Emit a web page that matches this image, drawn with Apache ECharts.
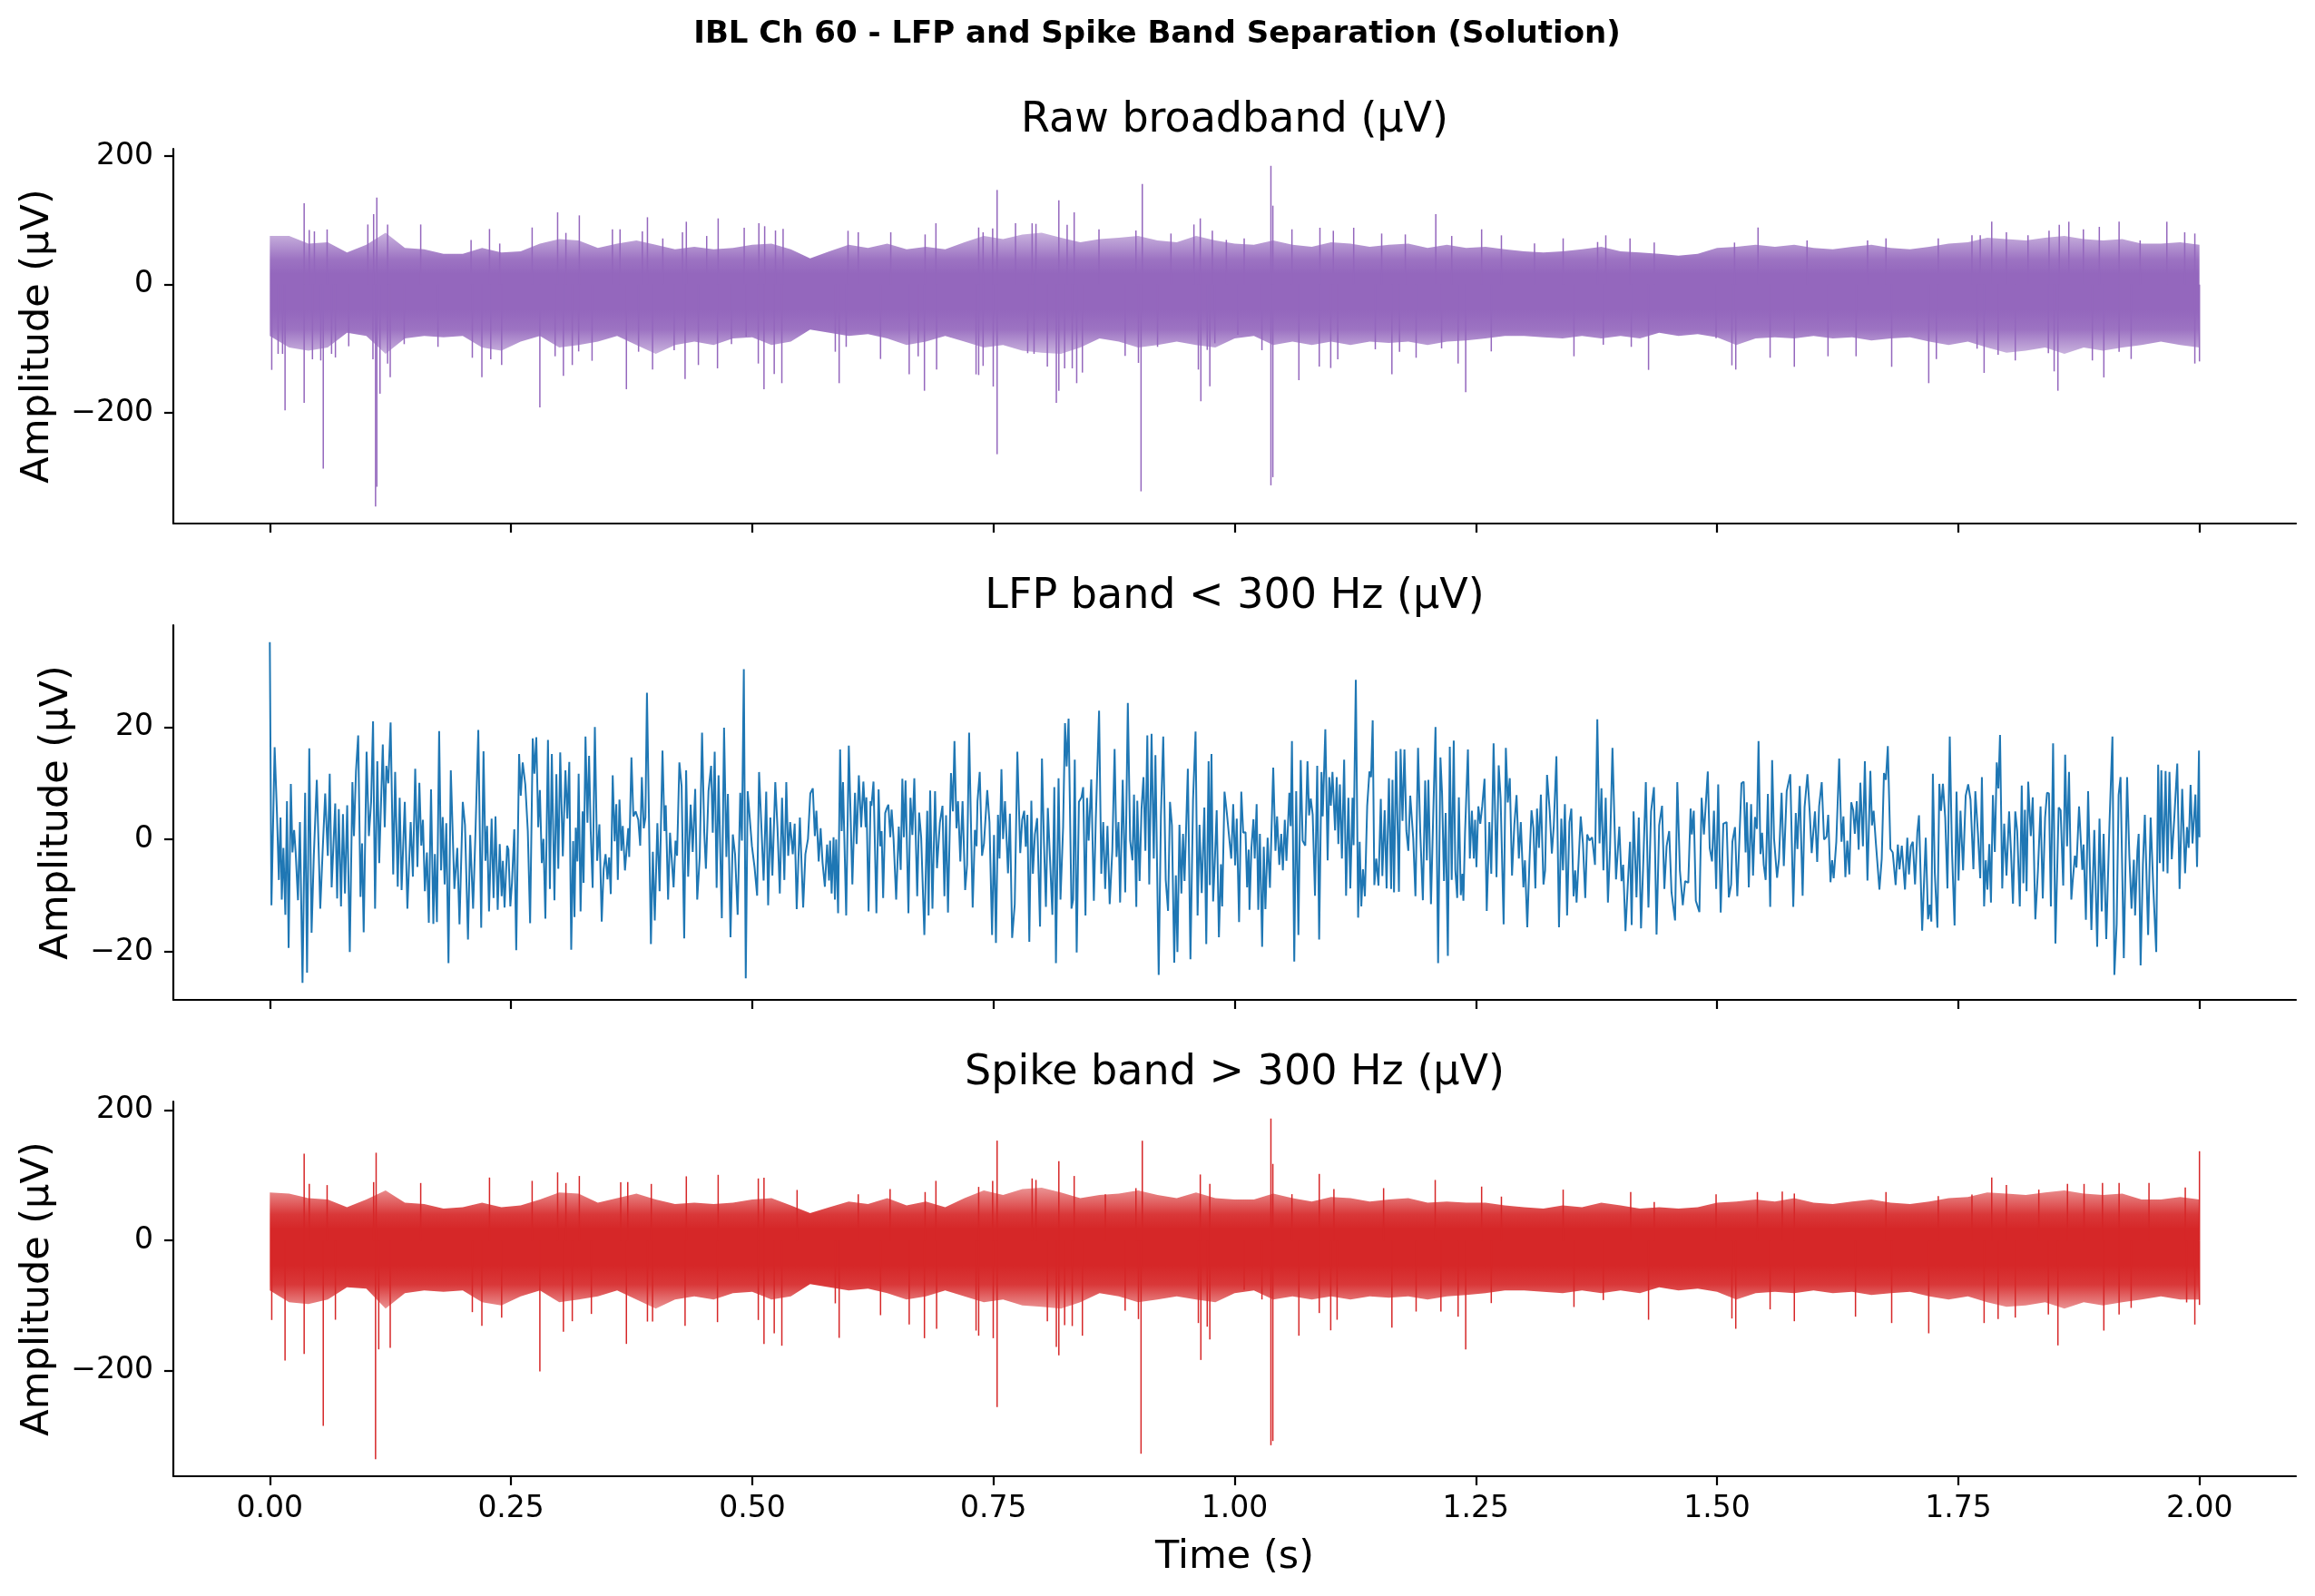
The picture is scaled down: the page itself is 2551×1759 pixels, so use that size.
<!DOCTYPE html>
<html>
<head>
<meta charset="utf-8">
<title>IBL Ch 60 - LFP and Spike Band Separation (Solution)</title>
<script src="https://cdn.jsdelivr.net/npm/echarts@6/dist/echarts.min.js"></script>
<style>
  html, body { margin: 0; padding: 0; background: #fff; }
  #chart { width: 2551px; height: 1759px; }
</style>
</head>
<body>
<div id="chart"></div>
<script>
// ---- data (time in ms, amplitude in µV) ----
var suptitle = 'IBL Ch 60 - LFP and Spike Band Separation (Solution)';
var panelTitles = ['Raw broadband (µV)', 'LFP band < 300 Hz (µV)', 'Spike band > 300 Hz (µV)'];
var timeTicks = [0, 0.25, 0.5, 0.75, 1.0, 1.25, 1.5, 1.75, 2.0];
var wideTicks = [-200, 0, 200];
var lfpTicks = [-20, 0, 20];
var binMs = 20; // envelope bins

// raw broadband: outer envelope of the dense trace, one value per 20 ms bin
var rawHi = [76,76,64,66,50,62,81,57,55,48,48,57,50,52,64,71,69,57,64,69,62,55,59,55,57,62,64,55,41,52,62,57,64,55,59,55,66,76,71,78,81,73,66,71,73,76,69,66,76,69,64,
  62,69,62,59,66,64,59,62,64,57,62,57,59,55,52,50,52,55,59,52,50,48,45,48,57,59,62,59,62,57,55,59,62,57,55,59,64,66,73,71,69,73,76,71,69,71,64,64,66,62];
var rawLo = [-80,-98,-103,-98,-75,-80,-108,-84,-80,-82,-80,-98,-103,-89,-80,-98,-94,-89,-80,-94,-108,-94,-89,-94,-84,-82,-94,-89,-70,-75,-80,-77,-84,-94,-89,-80,-89,-98,-94,-103,-106,-108,-98,-84,-89,-98,-94,-89,-94,-98,-84,
  -80,-94,-89,-94,-89,-94,-89,-91,-89,-94,-89,-87,-84,-80,-80,-82,-84,-80,-84,-80,-84,-75,-80,-77,-82,-94,-84,-82,-84,-80,-84,-82,-87,-84,-82,-89,-94,-89,-98,-106,-103,-98,-108,-98,-103,-98,-94,-89,-94,-98];
// raw broadband: single spikes sticking out of the band [ms, µV]
var rawUp = [[35.6,126.7],[40.9,85],[46.2,83],[59.4,86],[101.6,93.7],[107.6,109.8],[110.9,135.7],[122.1,93.7],[156.4,93.7],[208.6,69.7],[227.7,86.7],[238.3,64],[271.9,89],[298.3,112.6],[306.9,80.6],[320.8,107.9],[355.1,86.2],[363,86.2],[386.1,82.9],[391.4,105],[407.3,72],[427.7,81.5],[431.7,98],[452.8,75.8],[464.7,103.2],[491.7,88.6],[506.9,95.6],[512.9,91],[524.1,84.3],[532,86.7],[599.3,83.9],[609.9,81.5],[643.6,81.5],[679.2,78.2],[690.4,95.6],[734.7,89],[739.3,81.5],[749.2,87.6],[753.8,147.5],[772.9,95.6],[790.1,95.6],[794.1,94.7],[817.8,131.4],[826.4,93.3],[833.7,112.6],[859.4,86.2],[897.7,84.3],[904.3,156.9],[934,79.6],[957.8,93.7],[964.4,103.2],[976.9,83.9],[991.4,69.7],[1009.9,72],
  [1037.6,185.1],[1039.6,123],[1059.4,86.2],[1088.4,88.6],[1102.3,83.9],[1123.4,88.6],[1152.4,79.6],[1176.9,78.2],[1208.5,109.8],[1225,75.8],[1256,86.2],[1276.5,76.8],[1310.8,64.1],[1340.5,72.1],[1376.2,66.4],[1384.7,76.8],[1409.8,72.1],[1434.9,65.5],[1518.1,65.5],[1542.5,89],[1593.3,68.8],[1656,68.8],[1675.1,72.1],[1729.3,72.1],[1764.2,76.8],[1772.8,76.8],[1784.7,98],[1799.9,81.5],[1822.3,76.8],[1844.1,83.9],[1854.7,93.3],[1864.6,98],[1879.7,86.2],[1896.2,90],[1916.7,98],[1938.5,68.8],[1966.2,98],[1984.7,81.5],[1995.2,79.6]];
var rawDown = [[2,-132.9],[8.6,-107.9],[13.2,-107.9],[15.8,-196],[35.6,-184.2],[44.2,-116.4],[52.8,-118.2],[55.4,-286.9],[64,-107.9],[68,-113.5],[81.8,-96.1],[106.9,-116.4],[109.6,-345.8],[110.9,-315.2],[114.2,-170],[122.1,-123],[124.8,-144.2],[139.3,-92.8],[174.3,-97],[209.9,-114],[219.8,-144.2],[229,-116.4],[240.3,-125.3],[279.9,-191.3],[295.7,-111.7],[304.3,-142.3],[313.5,-125.3],[320.1,-104.1],[334,-118.7],[369.6,-163],[382.2,-104.6],[396.7,-132.4],[419.1,-102.2],[430.4,-147],[444.2,-125.3],[464,-130.5],[478.5,-92.8],[493.7,-81],[506.3,-123],[512.2,-163],[522.8,-139.4],[530.7,-153.6],[586.1,-104.6],[590.1,-153.6],[597.4,-97],[633,-115.9],[662.7,-139.9],[672,-111.7],[678.5,-165.4],[691.1,-132.4],[732,-139.9],[734.7,-140.9],[739.3,-126.7],[749.8,-158.8],[753.8,-264.3],[785.5,-106.9],[792.1,-107.9],[805.9,-127.7],[815.2,-184.2],[817.8,-165.4],[823.8,-130.5],[831.7,-130.5],[836.3,-153.6],[842.2,-137.1],[886.5,-111.2],[900.3,-122],[903,-322.2],[920.1,-97],[962.4,-132.4],[965,-181.8],[971.6,-101.8],[974.3,-158.3],[979.5,-91.4],[1003.3,-78.2],
  [1028.3,-102.2],[1037.6,-312.8],[1039.6,-300.1],[1066.6,-148.9],[1087.7,-127.7],[1099.6,-130],[1106.9,-116.4],[1145.8,-100.8],[1163,-139.9],[1170.9,-104.6],[1188.1,-114],[1214.5,-99.4],[1231.6,-123],[1239.5,-167.7],[1266,-104.1],[1351.7,-111.7],[1382.1,-93.7],[1411.1,-97],[1429,-132.9],[1499,-83.4],[1515.4,-125.8],[1519.4,-132.4],[1555,-114],[1580.1,-128.1],[1615,-111.7],[1644.1,-111.7],[1681,-128.1],[1719.4,-153.6],[1727.3,-115.9],[1769.5,-99.9],[1776.8,-137.6],[1791.3,-109.3],[1809.1,-118.2],[1843.4,-106.9],[1849.4,-135.2],[1853.3,-165.4],[1889,-118.2],[1900.9,-144.6],[1916.7,-104.6],[1929.2,-115.9],[1995.2,-123],[2000,-119.7]];

// spike band (> 300 Hz): same layout as the raw trace
var spkHi = [74,72,65,63,51,63,77,58,56,49,51,58,51,54,63,74,72,58,65,72,63,56,58,56,58,63,65,54,42,51,60,56,65,54,60,51,65,77,70,79,81,74,65,70,72,77,70,65,74,65,63,
  63,72,65,60,67,65,60,63,65,58,60,58,58,54,51,49,54,51,58,54,49,51,49,51,58,60,63,60,65,58,56,60,63,58,56,60,65,67,74,72,70,74,77,72,70,72,63,63,67,63];
var spkLo = [-77,-95,-98,-91,-72,-74,-105,-81,-77,-79,-77,-95,-100,-86,-77,-95,-91,-86,-77,-91,-105,-91,-86,-91,-81,-79,-91,-86,-67,-72,-77,-74,-81,-91,-86,-77,-86,-95,-91,-100,-102,-105,-95,-81,-86,-95,-91,-86,-91,-95,-81,
  -77,-91,-86,-91,-86,-91,-86,-88,-86,-91,-86,-84,-81,-77,-77,-79,-81,-77,-81,-77,-81,-72,-77,-74,-79,-91,-81,-79,-81,-77,-81,-79,-84,-81,-79,-86,-91,-86,-95,-102,-100,-95,-105,-95,-100,-95,-91,-86,-91,-91];
var spkUp = [[35.6,133.6],[40.9,87],[59.4,85.2],[107.6,89.8],[110.2,135],[156.4,88.4],[227.7,96.8],[271.9,91.7],[298.3,104.7],[306.9,88.4],[320.8,99.2],[363.7,89.4],[371,89.8],[395.4,87],[431.7,98.7],[464.7,101],[506.3,95.4],[512.2,96.4],[546.5,77.7],[609.9,71.2],[642.9,79.1],[679.2,74.5],[690.4,91.7],[734.7,82.4],[749.2,91.7],[753.8,153.6],[790.1,95.4],[794.1,93.1],[817.8,122],[833.7,99.2],[866,71.2],[897.7,80.5],[904.3,153.6],[964.4,101.5],[974.3,87],
  [1037.6,187.6],[1039.6,117.8],[1059.4,71.2],[1087.7,102.4],[1102.9,79.1],[1154.4,80.5],[1207.9,93.1],[1256,82.9],[1276.5,67.5],[1340.5,78.2],[1410.5,74.5],[1434.9,59.1],[1499,71.2],[1541.8,74.5],[1567.6,75.4],[1580.1,72.2],[1675.1,74.5],[1729.3,68.4],[1764.2,70.8],[1784.7,96.8],[1799.9,85.2],[1833.5,78.2],[1863.2,87],[1880.4,87],[1899.5,88.4],[1916.7,88.4],[1947.7,88.4],[1985.3,81.5],[2000,137.3]];
var spkDown = [[2,-122.4],[15.8,-184.8],[35.6,-174.6],[55.4,-285.4],[68,-122],[109.6,-336.6],[112.9,-167.6],[124.8,-165.3],[209.9,-110.3],[219.8,-131.3],[240.3,-118.7],[279.9,-201.6],[304.3,-140.6],[313.5,-124.3],[333.3,-113.1],[369.6,-159.2],[391.4,-124.8],[396.7,-124.8],[430.4,-131.3],[464,-125.7],[506.3,-122.4],[512.2,-159.2],[522.8,-142.9],[530.7,-162],[586.1,-96.8],[590.1,-149.9],[633,-115],[662.7,-129.4],[678.5,-150.4],[691.1,-135.9],[732,-138.7],[734.7,-146.6],[749.8,-150.4],[753.8,-256.4],[805.9,-124.3],[815.2,-163.9],[817.8,-176.9],[823.8,-130.3],[831.7,-131.7],[842.2,-146.6],[886.5,-108],[900.3,-121],[903,-328.2],[962.4,-127.1],[965,-183.9],[971.6,-132.7],[974.3,-152.2],[1009.9,-75.9],
  [1028.3,-90.8],[1037.6,-315.1],[1039.6,-308.6],[1066.6,-146.6],[1087.7,-111.7],[1099.6,-138.3],[1106.2,-122],[1163,-134.1],[1188.1,-109.4],[1213.8,-109.4],[1231.6,-117.3],[1239.5,-167.6],[1266,-96.4],[1351.7,-102.4],[1382.1,-91.7],[1429,-122],[1515.4,-120.1],[1519.4,-135.9],[1555,-106.1],[1580.1,-124.3],[1643.5,-117.3],[1681,-127.1],[1719.4,-142.9],[1776.8,-127.1],[1791.3,-121],[1809.1,-118.7],[1843.4,-114],[1853.3,-161.5],[1900.9,-138.7],[1916.7,-114],[1929.2,-103.8],[1986.7,-95.4],[1995.2,-129.4],[2000,-99.2]];

// LFP band (< 300 Hz): turning points of the trace [ms, µV], one array per half second
var lfpA = [[0,35.1],[1.7,-11.7],[5,16.4],[7.4,4.7],[9.4,-7.2],[11.1,3.9],[12.4,-10.7],[14.1,-1.5],[16.1,-13.4],[17.8,6.8],[19.5,-19.3],[21.8,9.9],[23.5,-2.3],[25.2,1.7],[26.8,-2.3],[29.2,-10.8],[31.2,3.1],[33.9,-25.5],[36.6,8.3],[38.6,-23.7],[40.9,16.2],[43.3,-16.6],[45.6,-2.9],[48.7,10.6],[52.3,-12.3],[54.7,-2.3],[57.4,8.2],[60.1,-2.9],[62.1,11.7],[64.1,-8.5],[67.8,6.4],[69.8,-10.5],[71.5,5.4],[73.8,-11.9],[75.8,4.5],[77.9,-9.6],[80.2,6.1],[82.9,-20],[85.6,10.2],[87.2,0.6],[89.3,12.1],[91.6,18.5],[94,-10.2],[95.6,-0.7],[97.3,-16.5],[100.3,15.6],[102.7,0.6],[105,6.7],[107,21],[109.1,-12.3],[111.4,13.9],[113.4,-4.2],[117.1,16.9],[119.1,2.2],[120.8,13.1],[122.8,10],[125.2,20.8],[127.9,-6.2],[129.9,12],[132.6,-8.4],[134.6,7.4],[136.6,-9],[139.9,6.7],[142.6,-12.3],[146,3.1],[148.3,-6.6],[150.7,12.6],[153,-4.9],[155,10.1],[157,-1.1],[158.7,3.5],[160.7,-9.2],[162.8,-2.3],[164.8,-14.8],[167.1,8.9],[169.5,-15],[171.1,-2.6],[173.2,-14.7],[175.5,19.3],[177.5,-5.5],[179.2,4],[181.2,-8],[182.9,2.9],[185.2,-22],[187.6,12.3],[191.3,-8.8],[194.3,-1.5],[196.6,-15.1],[200,6.7],[202.3,2.6],[205.4,-17.8],[207.7,0.8],[210.7,-12.3],[213.1,0.9],[216.1,19.5],[219.1,-15.7],[221.5,15.7],[223.5,-3.8],[225.2,2.4],[227.2,-12.8],[229.9,3.7],[231.9,-10.4],[233.9,4.1],[236.2,-12.5],[238.3,-0.8],[240.3,-10.1],[241.6,-3.8],[243.3,-12.1],[246,-1.1],[247.3,-1.8],[249.3,-11.9],[251,-7.7],[253.4,1.8],[255.4,-19.7],[258.4,15.2],[260.1,7.8],[262.1,13.7],[264.8,9.8],[267.4,1.5],[269.8,-14.9],[272.5,18],[274.2,11.7],[276.2,18.2],[278.2,2.2],[279.9,8.8],[281.9,-4.2],[283.6,0.1],[285.6,-14.1],[288.3,17.7],[290.3,-8.8],[292.3,15.2],[295,-10.8],[297,11.6],[299,-5.2],[301,15.5],[303.7,-3],[306.4,12.3],[308.4,3.7],[310.4,13.8],[312.4,-19.6],[314.4,-0.3],[315.8,-13.8],[317.1,2.1],[318.8,-3.9],[320.1,11.7],[322.1,-12.8],[324.2,5],[325.2,-7.7],[327.2,18.3],[329.2,3],[330.9,14.9],[332.6,1.5],[334.6,-8.6],[336.9,20],[339.3,-3.8],[341.6,2.7],[344,-14.6],[346,-5.3],[348,-2.6],[350,-7.1],[351.7,-3.2],[353.4,-9.7],[355.4,11.4],[357.4,-0.3],[359.1,6.3],[360.7,-7.2],[362.4,7.1],[364.4,-2],[365.8,2.4],[368.1,-5.5],[371.5,2],[372.5,-3.1],[374.8,14.6],[376.8,4.1],[379.2,5],[381.9,3.5],[383.9,-1.1],[385.6,11.1],[387.6,2],[389.3,3.9],[390.9,26.1],[393,3.6],[395,-18.6],[397,-2.2],[399,-14.4],[401.7,2.9],[404,-9.2],[407,15.8],[409.1,1.5],[410.4,6.1],[412.8,-10.7],[414.8,1.2],[418.5,-8.5],[420.5,-0.2],[422.1,-2.9],[424.5,13.7],[426.8,9.5],[429.5,-17.6],[431.5,12.3],[433.6,-6.6],[436.2,6.2],[438.3,-2.2],[440.9,9],[443,-10.7],[445.6,-3.1],[448,19],[450.3,1.2],[452,-5.2],[454.7,8.6],[457.4,13.1],[459.1,1.2],[461.1,15.6],[463.1,-8.6],[465.1,11.4],[468.5,-14],[470.8,19.9],[473.2,-3.1],[474.8,8.1],[477.5,-17.4],[479.9,0.9],[482.2,-2.6],[484.9,-13.4],[487.6,8.3],[489.3,-0.2],[491.3,30.3],[493.3,-24.7],[495.3,8.6]];
var lfpB = [[499.7,-1.2],[502.4,-4.9],[505.1,-10],[507.1,12],[509.1,4],[511.8,-7.3],[514.5,8.5],[516.5,-11.7],[518.8,3.9],[520.9,-6.4],[523.9,10.2],[526.2,2],[528.6,-9.6],[530.9,7.4],[533.3,-7.2],[535.3,10.2],[537.3,-2.9],[539.3,3.1],[542,-2.6],[544,2.8],[546.1,-12.4],[549.4,3.9],[552.8,-12.1],[555.1,-2.6],[557.8,0.1],[560.2,8.2],[562.8,9.1],[564.9,0.6],[566.5,5.1],[568.9,-3.9],[570.9,2],[572.9,-4.1],[575.3,-8.4],[577.6,-0.9],[579.6,-7.3],[580.7,-0.2],[582.3,-9.6],[584.3,0.4],[585.7,-10.7],[587,0],[589,-13.1],[591.1,16],[592.7,1.5],[594.1,10.2],[597.4,-13.5],[600.1,16.7],[603.8,-8],[606.5,8.3],[608.2,-0.8],[610.5,11.4],[612.9,2.2],[615.2,10.3],[617.6,2.2],[618.3,7.5],[620.6,-12.8],[622.6,6.8],[623.6,6],[625.7,10.3],[628.7,-13.1],[631,8.9],[632.7,-1.2],[634.1,1.5],[635.7,-10.4],[637.8,4.7],[639.4,5.5],[641.1,6.2],[643.1,0.4],[644.5,5.3],[646.5,0.1],[649.2,-10.7],[651.9,2.3],[653.9,-5.4],[655.6,10.8],[657.2,0.4],[658.9,10.5],[661.9,-13.1],[664,7.4],[666,0.8],[668,10.9],[671,-10.1],[673,4.8],[675.1,0.4],[678.4,-17],[681.4,5.1],[682.8,-13.5],[684.4,8.7],[686.8,-12.3],[689.5,8.6],[691.5,-5.1],[694.5,3],[697.2,6],[699.2,-10.1],[700.9,4.3],[702.9,-13],[706,11.8],[708,5],[709.6,17.5],[711.7,2],[713.3,6.8],[715.7,-3.9],[718,6.8],[720.7,-9],[722.7,-4.5],[724.8,19],[728.5,-12.1],[730.8,1.7],[732.5,-1.2],[733.5,6.8],[735.8,12],[738.2,-2.9],[740.2,-0.7],[743.6,8.8],[745.9,3.1],[748.6,-17],[750.6,0.8],[752.6,-18.4],[754.7,4.4],[756.3,-3.4],[758.3,12.5],[760,0.1],[762,6.8],[765.1,-6],[767.1,4.6],[769.4,-17.5],[772.1,-11.5],[774.8,15.6],[777.8,-2.4],[779.8,3.5],[781.9,5.1],[783.5,-1.3],[785.2,4.4],[787.2,-18.2],[789.3,6.9],[790.9,-6.1],[793,0.9],[795.3,3.8],[798.3,-15.5],[800.3,14.4],[802.4,-0.7],[804.4,-12],[806.4,5.6],[808.7,-3.7],[811.1,-13.4],[813.1,9.3],[814.8,-22],[817.5,10.9],[819.5,-10.7],[822.2,2.1],[824.2,20.7],[825.9,13],[827.9,21.5],[830.9,-12.3],[832.6,-10.7],[834.3,14.2],[836.3,-20.1],[838.6,6.7],[841.3,7.5],[843,9.3],[845.4,-13.5],[847,7.4],[848.7,-0.2],[851.4,10.7],[854.1,-10.9],[856.1,3.6],[859.5,22.9],[861.8,-6.1],[863.8,3.1],[865.8,-8.8],[868.2,2.4],[870.5,-11.5],[873.2,-2],[875.6,16.1],[877.6,-3.1],[879.6,3.1],[881.3,-11.2],[884,10.6],[886.6,-9.4],[889.3,24.3],[891.7,-0.2],[894.1,-3.7],[895.7,8],[898.1,-12],[899.1,6.9],[901.5,-7.4],[903.5,5.5],[905.5,11.1],[907.5,-2],[909.5,18.5],[911.5,-8],[913.9,18.8],[916.2,-3.4],[917.9,15],[921.3,-24.1],[923.6,4.1],[926,18.3],[928.6,-7.2],[931,-12.7],[933,6.7],[935,2.5],[937.4,-21.9],[939.1,-6.4],[940.7,-20],[942.8,2.6],[944.8,-9.6],[946.5,1],[948.1,-7.4],[951.5,12.6],[954.2,-21.3],[956.9,7.1],[959.5,19.2],[961.6,-13.5],[963.6,2.6],[965.9,-9.5],[968.6,5.7],[970.6,-18.6],[973,13.9],[974.3,-8.1],[976,15.2],[977.7,-11],[979.4,-4.1],[981.4,5.2],[983.7,-17.4],[985.8,-4.4],[987.1,-11.9],[989.5,8.5],[992.1,4.4],[994.2,0.6],[996.5,-3.4],[998.5,6.3],[1000.5,-4.6],[1002.2,3.7],[1004.6,-14.7],[1006.9,8.5],[1008.9,1.2],[1011.3,1.3],[1012.9,-8.5],[1014.6,-1.8]];
var lfpC = [[1015.4,-12.5],[1017.4,-1.5],[1019.5,3.6],[1020.8,-3.4],[1022.8,6.3],[1024.5,-12.5],[1026.2,1],[1028.5,-19.1],[1030.2,-1.3],[1031.9,-12.4],[1034.2,0.3],[1036.6,-8.6],[1040,12.8],[1042.3,-2],[1044,4.1],[1046.3,-4.5],[1048.3,1],[1050,-5.5],[1052,3.5],[1053.7,-3.8],[1056.7,8.3],[1058.1,2.4],[1059.4,17.5],[1061.8,-21.7],[1063.8,8.6],[1066.1,-17],[1068.5,14.1],[1070.5,-0.2],[1073.2,-1.1],[1075.5,13.9],[1077.2,4.3],[1078.9,7.3],[1080.9,4.4],[1083.3,-10],[1085.6,13.1],[1087.6,-17.8],[1090,12],[1091.3,4.1],[1094,19.6],[1096.4,-3.7],[1098.1,11.1],[1099.7,6],[1101.4,12],[1104.1,1.6],[1105.8,11.1],[1107.5,-0.8],[1109.1,9.8],[1111.2,-3.4],[1113.5,14.2],[1115.5,-10],[1117.9,7.4],[1119.9,-8.7],[1122.2,7.4],[1123.3,-1],[1125.6,28.4],[1128,-13.9],[1129.6,-0.4],[1131.3,-11.9],[1133,-5.3],[1135,-10.1],[1137.4,6],[1139.7,12.1],[1141.4,11.1],[1143.1,21.2],[1144.8,-8.1],[1146.8,-3.4],[1149.1,-8.2],[1151.5,7.2],[1153.1,-6.5],[1155.5,5.2],[1157.5,-8.7],[1159.9,10.9],[1162.2,-8.8],[1163.6,10.6],[1165.2,-9.4],[1167.3,15.7],[1170.3,-9.3],[1172,16.1],[1174,3.3],[1176,16],[1178,1.5],[1180,-2],[1182,7.8],[1185.1,0.2],[1187.4,-10.1],[1190.1,16.3],[1192.4,1.2],[1195.1,-10.8],[1197.5,10.5],[1199.2,-3.7],[1200.8,10.6],[1203.5,-11.5],[1205.5,2.1],[1208.2,20],[1210.9,-22],[1213.3,14.6],[1215,8.2],[1217,-7.4],[1218.7,4.7],[1221,-20.7],[1223,16.5],[1225,-7.2],[1227.1,17.6],[1228.7,-5.3],[1230.7,-10.4],[1232.4,7.5],[1234.4,-9.9],[1236.1,-6.1],[1237.1,-10.9],[1238.8,1.2],[1241.8,16],[1243.8,-3.4],[1245.9,5.1],[1247.9,-3.4],[1249.2,3.5],[1250.6,-4.9],[1252.6,5.9],[1254.6,2.8],[1256.6,5.9],[1259,10.8],[1261.3,-12.7],[1264,3.1],[1266,-6.1],[1268.4,17.1],[1271.4,-6.7],[1273.7,13.2],[1275.7,7.2],[1278.8,-15.1],[1281.1,16.3],[1283.1,6.6],[1285.2,10.9],[1287.5,-6.4],[1289.9,2.6],[1292.2,7.9],[1294.6,-3.4],[1296.6,3.1],[1299.3,-8.5],[1300.9,-3.7],[1303.3,-15.6],[1305.6,-3.8],[1307.7,5.2],[1309.7,2],[1311.7,-8.7],[1313.4,5.5],[1315.4,-1.5],[1317.4,8],[1320.1,-8],[1321.8,-5.5],[1323.8,11.5],[1326.5,5.2],[1328.8,-2.5],[1330.8,2.5],[1333.5,14.8],[1336.2,-15.6],[1338.6,3.7],[1340.3,-5.5],[1342.3,6.3],[1344.6,-13.5],[1347,3.1],[1349,5.5],[1351.3,-10.1],[1353,-5.5],[1354.4,-11.2],[1356.4,-4.2],[1358.7,4.1],[1361,-0.7],[1363.4,-10.4],[1365.4,0.9],[1367.8,-0.2],[1370.5,0.4],[1373.5,-4.5],[1375.9,21.4],[1378.2,-0.7],[1380.2,9.1],[1382.2,-5.5],[1384.6,7.4],[1386.9,-11.2],[1389,-2],[1391.6,16.3],[1395.3,-7.1],[1398.7,2.3],[1401,-7.4],[1402.7,-4.5],[1405.1,-16.3],[1407.4,-8.4],[1409.8,-0.4],[1411.5,-15.2],[1413.5,5],[1416.5,-10.3],[1418.9,3.9],[1421.2,-15.8],[1423.6,-3.8],[1426.2,10.2],[1428.9,-12.1],[1431.6,5],[1434.6,9.3],[1437.3,-16.9],[1440,2.5],[1443,6],[1445.4,-8.8],[1447.7,-1.2],[1450.4,1.5],[1452.8,-9.4],[1456.5,-14.4],[1458.8,10.2],[1461.5,-5.5],[1464.5,-11.7],[1466.9,-7.4],[1470.2,-7.7],[1472.6,5.5],[1473.9,0.9],[1475.9,5.1],[1478,-10.9],[1481.7,-12.9],[1484,7.4],[1486.4,0.9],[1490.4,12.1],[1492.4,-1.5],[1494.8,-3.9],[1496.8,5.1],[1499.1,-8.8],[1501.2,9.8],[1503.8,-13],[1506.5,2.8],[1509.9,3.1],[1512.2,-10.3],[1514.6,-8],[1515.9,-0.4],[1518.6,2.2],[1521,-10.1],[1525.3,10]];
var lfpD = [[1527.6,10.3],[1529.6,-2.3],[1530.9,6.6],[1532.9,-8.5],[1535.3,6.3],[1537.3,-6.4],[1539.3,4],[1541.3,1.9],[1543,17.5],[1545,-2.6],[1546.7,1.2],[1548.4,-4.5],[1550.4,-7.2],[1552.7,8.1],[1555.1,-12],[1557.1,14.1],[1559.1,0.1],[1562.2,-6.8],[1564.2,-3.4],[1566.9,8.3],[1569.2,-4.7],[1572.2,8.6],[1573.6,8.6],[1575.9,11.6],[1579,-12],[1581.6,4.7],[1583.3,-1.7],[1585.7,9.5],[1588.7,-10],[1590.7,5.7],[1593.7,11.6],[1596.1,4.7],[1598.1,-2.4],[1601.5,5],[1603.8,-4],[1605.8,5.9],[1608.5,10.2],[1610.9,0],[1613.5,0.5],[1615.2,4.4],[1617.6,-7.6],[1619.3,-3.7],[1620.9,-6.9],[1623.6,-0.4],[1626.6,14.4],[1629,-0.4],[1631,4.1],[1633,-6.7],[1635,-0.2],[1637.1,-6.2],[1639.1,6.6],[1641.1,5.2],[1642.8,1],[1644.8,6.8],[1646.8,-1.8],[1648.5,10.1],[1651.2,-1.2],[1653.2,13.9],[1655.9,-7.3],[1658.9,12.2],[1660.6,2.5],[1662.3,5.1],[1664.6,-0.6],[1666,-0.8],[1668.3,-8.9],[1670.7,-3.4],[1673,11.8],[1675,10.6],[1677,16.6],[1679.7,-1.7],[1682.1,-2.3],[1685.1,-8.1],[1687.4,-0.9],[1689.1,-5.3],[1691.5,-1.1],[1694.8,-8.9],[1697.2,0.3],[1698.9,-6.2],[1700.9,-1.2],[1702.9,-0.4],[1705.2,-8],[1707.6,1.3],[1709.3,4.3],[1712.6,-16.2],[1716.3,0.3],[1718.7,-14.2],[1720.4,-11.6],[1722.1,-14.6],[1723.7,11.7],[1725.7,-6],[1728.4,-15.7],[1730.4,9.9],[1732.1,5.1],[1734.1,9.9],[1736.5,3.9],[1738.8,-8.7],[1741.2,18.3],[1743.5,-2],[1746.2,-15.3],[1748.2,8.5],[1750.3,-7.3],[1752.3,5.1],[1755,-5.5],[1757.7,7.8],[1760.3,9.8],[1762.7,7.1],[1765.7,-5.3],[1767.7,8.6],[1770.4,1.1],[1772.8,-6.9],[1774.5,11.1],[1776.8,-11.9],[1778.5,-3.7],[1780.2,-8.9],[1782.2,-0.8],[1783.9,-11.2],[1785.9,7.9],[1787.9,-2.2],[1789.9,13.7],[1791.6,9.1],[1793.3,18.6],[1795.6,-8.7],[1797.6,2.8],[1800,-6.4],[1802.7,5],[1804.7,-2.3],[1806.7,-11.4],[1809.1,5],[1811.1,1.5],[1813.8,-11.9],[1815.8,9.6],[1817.5,-7.8],[1819.1,5.3],[1820.8,-9.2],[1822.5,10.3],[1825.2,0.6],[1827.2,7.5],[1829.9,-14.2],[1832.6,-5.5],[1835.3,5.9],[1837.6,-10.5],[1840,3.9],[1842,8.3],[1844,8.2],[1846,-11.9],[1848.3,17.1],[1850.7,-18.5],[1854.1,5.7],[1856.1,5.2],[1858.8,-8.2],[1860.8,15.1],[1862.8,-1.2],[1864.8,12],[1867.2,-10.7],[1868.5,-7.7],[1870.9,-2.9],[1872.5,-5],[1875.2,5.9],[1878.6,-5.4],[1879.9,-0.9],[1882.3,-14.3],[1884.6,8.6],[1888,-16.1],[1891,1.7],[1894,-19.1],[1896.4,3.7],[1898.7,-12.8],[1900.7,1],[1903.4,-17.7],[1906.8,3.1],[1909.8,18.3],[1911.8,-24.1],[1914.2,-15.1],[1916.2,7.9],[1918.2,11.1],[1921.6,-21.1],[1925,11.1],[1927.3,-2.7],[1929.6,-12.3],[1932,-3.6],[1933.3,-13.5],[1935.7,-2],[1937,1],[1939,-22.4],[1941.4,-4.4],[1943.4,4.4],[1946.8,-17],[1949.4,3.9],[1952.2,-8.8],[1955.2,-20],[1957.2,13.3],[1958.9,-4.2],[1960.5,12.3],[1962.5,-5.7],[1964.9,12.2],[1966.9,-6],[1968.9,12],[1971.3,-3.5],[1974,4.1],[1977,13.5],[1979.4,-8.8],[1982.1,9],[1985.1,-6],[1987.1,2.2],[1988.8,-1.5],[1990.8,9.7],[1992.8,-0.7],[1995.8,8],[1997.5,-4.9],[1999.5,15.8],[2000,0.4]];
</script>
<script>
(function () {
    "use strict";

    var FONT = 'DejaVu Sans';
    var BLUE = '#1f77b4';

    // figure layout (pixels)
    var gridLeft = 191, gridWidth = 2339, gridHeight = 413;
    var gridTops = [164, 689, 1214];
    var axisCenterX = gridLeft + gridWidth / 2;

    var lfp = lfpA.concat(lfpB, lfpC, lfpD);

    function sec(p) { return [p[0] / 1000, p[1]]; }

    // matplotlib-like 5% margins around the data extent
    function extent(values) {
        var lo = Math.min.apply(null, values), hi = Math.max.apply(null, values);
        var pad = (hi - lo) * 0.05;
        return [lo - pad, hi + pad];
    }
    function vals(pts) { return pts.map(function (p) { return p[1]; }); }

    var rawExt = extent(rawHi.concat(rawLo, vals(rawUp), vals(rawDown)));
    var lfpExt = extent(vals(lfp));
    var spkExt = extent(spkHi.concat(spkLo, vals(spkUp), vals(spkDown)));

    function minusSign(v) {
        return v < 0 ? '\u2212' + Math.abs(v) : String(v);
    }

    // the dense trace fills in toward the middle and thins out at its edges
    function bandFill(rgb) {
        return new echarts.graphic.LinearGradient(0, 0, 0, 1, [
            { offset: 0, color: 'rgba(' + rgb + ',0.5)' },
            { offset: 0.22, color: 'rgba(' + rgb + ',0.92)' },
            { offset: 0.34, color: 'rgba(' + rgb + ',1)' },
            { offset: 0.64, color: 'rgba(' + rgb + ',1)' },
            { offset: 0.8, color: 'rgba(' + rgb + ',0.92)' },
            { offset: 1, color: 'rgba(' + rgb + ',0.5)' }
        ]);
    }

    // dense trace drawn as a filled band between the envelopes
    function bandRenderer(hi, lo, fill) {
        return function (params, api) {
            var pts = [];
            for (var i = 0; i < hi.length; i++) {
                pts.push(api.coord([i * binMs / 1000, hi[i]]));
            }
            for (var j = lo.length - 1; j >= 0; j--) {
                pts.push(api.coord([j * binMs / 1000, lo[j]]));
            }
            return {
                type: 'polygon',
                shape: { points: pts },
                style: { fill: fill }
            };
        };
    }

    // single spikes: thin vertical strokes from 0 to the tip
    function spikeRenderer(params, api) {
        var a = api.coord([api.value(0), 0]);
        var b = api.coord([api.value(0), api.value(1)]);
        return {
            type: 'line',
            shape: { x1: a[0], y1: a[1], x2: b[0], y2: b[1] },
            style: { stroke: api.visual('color'), lineWidth: 1.5 }
        };
    }

    function makeX(idx, showLabels) {
        var ax = {
            type: 'value',
            gridIndex: idx,
            min: -0.1,
            max: 2.1,
            axisLine: { show: true, onZero: false, lineStyle: { color: '#000', width: 2.2 } },
            axisTick: { show: true, length: 10, lineStyle: { color: '#000', width: 2.2 }, customValues: timeTicks },
            axisLabel: {
                show: showLabels,
                customValues: timeTicks,
                margin: 20,
                fontFamily: FONT,
                fontSize: 33,
                color: '#000',
                formatter: function (v) { return v.toFixed(2); }
            },
            splitLine: { show: false }
        };
        if (showLabels) {
            ax.name = 'Time (s)';
            ax.nameLocation = 'middle';
            ax.nameGap = 68;
            ax.nameTextStyle = { fontFamily: FONT, fontSize: 43, color: '#000' };
        }
        return ax;
    }

    function makeY(idx, ext, ticks, nameGap) {
        return {
            type: 'value',
            gridIndex: idx,
            min: ext[0],
            max: ext[1],
            name: 'Amplitude (µV)',
            nameLocation: 'middle',
            nameGap: nameGap,
            nameRotate: 90,
            nameTextStyle: { fontFamily: FONT, fontSize: 43, color: '#000' },
            axisLine: { show: true, onZero: false, lineStyle: { color: '#000', width: 2.2 } },
            axisTick: { show: true, length: 10, lineStyle: { color: '#000', width: 2.2 }, customValues: ticks },
            axisLabel: {
                customValues: ticks,
                margin: 22,
                fontFamily: FONT,
                fontSize: 33,
                color: '#000',
                formatter: minusSign
            },
            splitLine: { show: false }
        };
    }

    function titleText(text, x, y, size, weight) {
        return {
            type: 'text',
            x: x,
            y: y,
            style: {
                text: text,
                fontFamily: FONT,
                fontSize: size,
                fontWeight: weight,
                fill: '#000',
                align: 'center',
                verticalAlign: 'middle'
            }
        };
    }

    var chart = echarts.init(document.getElementById('chart'), null, { renderer: 'canvas' });

    var option = {
        animation: false,
        backgroundColor: '#fff',
        graphic: [
            titleText(suptitle, 1275, 38, 34, 'bold'),
            titleText(panelTitles[0], axisCenterX, 133, 46, 'normal'),
            titleText(panelTitles[1], axisCenterX, 658, 46, 'normal'),
            titleText(panelTitles[2], axisCenterX, 1183, 46, 'normal')
        ],
        grid: gridTops.map(function (t) {
            return { left: gridLeft, top: t, width: gridWidth, height: gridHeight };
        }),
        xAxis: [makeX(0, false), makeX(1, false), makeX(2, true)],
        yAxis: [
            makeY(0, rawExt, wideTicks, 128),
            makeY(1, lfpExt, lfpTicks, 107),
            makeY(2, spkExt, wideTicks, 128)
        ],
        series: [
            {
                name: 'raw band', type: 'custom', xAxisIndex: 0, yAxisIndex: 0,
                renderItem: bandRenderer(rawHi, rawLo, bandFill('148,103,189')), data: [[0, 0]], silent: true
            },
            {
                name: 'raw spikes', type: 'custom', xAxisIndex: 0, yAxisIndex: 0,
                color: '#9467bd', renderItem: spikeRenderer, data: rawUp.concat(rawDown).map(sec), silent: true
            },
            {
                name: 'LFP', type: 'line', xAxisIndex: 1, yAxisIndex: 1,
                data: lfp.map(sec),
                showSymbol: false, symbol: 'none',
                lineStyle: { color: BLUE, width: 2 },
                itemStyle: { color: BLUE },
                silent: true
            },
            {
                name: 'spike band', type: 'custom', xAxisIndex: 2, yAxisIndex: 2,
                renderItem: bandRenderer(spkHi, spkLo, bandFill('214,39,40')), data: [[0, 0]], silent: true
            },
            {
                name: 'spike tips', type: 'custom', xAxisIndex: 2, yAxisIndex: 2,
                color: '#d62728', renderItem: spikeRenderer, data: spkUp.concat(spkDown).map(sec), silent: true
            }
        ]
    };

    chart.setOption(option);
})();
</script>
</body>
</html>
